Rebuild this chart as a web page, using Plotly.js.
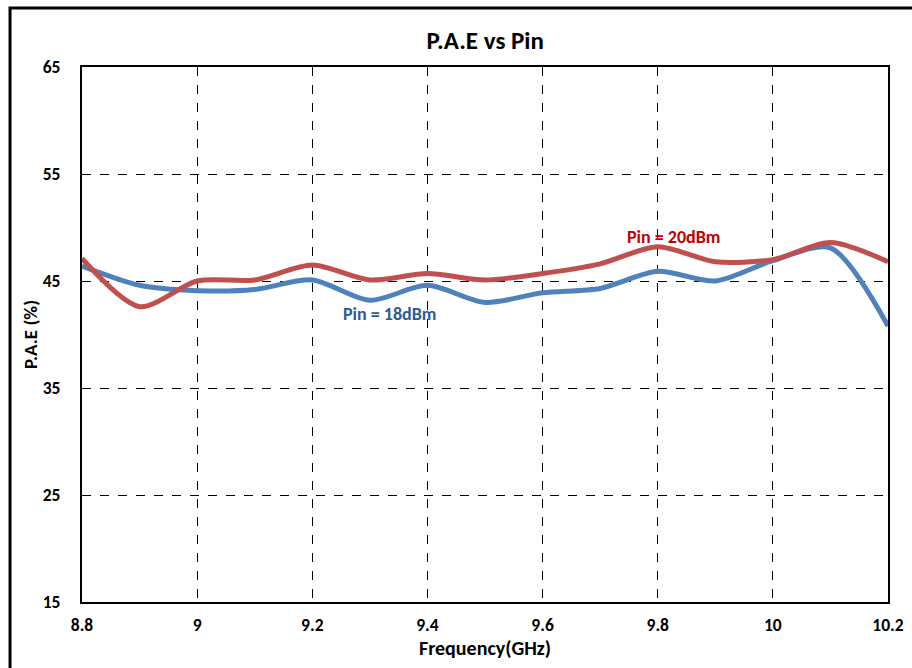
<!DOCTYPE html>
<html>
<head>
<meta charset="utf-8">
<script src="https://cdn.plot.ly/plotly-3.0.1.min.js"></script>
<style>html,body{margin:0;padding:0;background:#fff;}#chart{width:912px;height:668px;}</style>
</head>
<body>
<div id="chart"></div>
<script>
const freq = [8.8, 8.9, 9.0, 9.1, 9.2, 9.3, 9.4, 9.5, 9.6, 9.7, 9.8, 9.9, 10.0, 10.1, 10.2];
const pae18 = [46.4, 44.6, 44.1, 44.2, 45.1, 43.2, 44.6, 43.0, 43.9, 44.3, 45.9, 45.0, 46.9, 48.1, 40.8];
const pae20 = [47.1, 42.6, 45.0, 45.1, 46.5, 45.1, 45.7, 45.1, 45.7, 46.6, 48.2, 46.8, 47.0, 48.6, 46.8];
const xTicks = [8.8, 9, 9.2, 9.4, 9.6, 9.8, 10, 10.2];
const xTickText = ['8.8', '9', '9.2', '9.4', '9.6', '9.8', '10', '10.2'];
const yTicks = [15, 25, 35, 45, 55, 65];

const FONT = "Carlito, 'Liberation Sans Narrow', Lato, 'Open Sans', sans-serif";

const traces = [
  {x: freq, y: pae18, mode: 'lines', name: 'Pin = 18dBm',
   line: {color: '#4F81BD', width: 5, shape: 'spline', smoothing: 0.8}},
  {x: freq, y: pae20, mode: 'lines', name: 'Pin = 20dBm',
   line: {color: '#C0504D', width: 5, shape: 'spline', smoothing: 0.8}}
];

const layout = {
  width: 912, height: 668,
  margin: {l: 82, r: 24, t: 67, b: 66},
  paper_bgcolor: '#fff', plot_bgcolor: '#fff',
  showlegend: false,
  font: {family: FONT, color: '#000', size: 17},
  title: {text: '<b>P.A.E vs Pin</b>', x: 0.532, xanchor: 'center', y: 0.94, yanchor: 'middle',
          font: {size: 25, family: FONT, color: '#000'}},
  xaxis: {
    range: [8.8, 10.2], tickvals: xTicks, ticktext: xTickText.map(t => '<b>' + t + '</b>'),
    showgrid: true, gridcolor: '#000', griddash: 'dash', gridwidth: 1,
    showline: true, linecolor: '#000', linewidth: 2, mirror: true,
    zeroline: false, ticks: '', ticklen: 0, ticklabelstandoff: 6,
    tickfont: {size: 17.5, family: FONT},
    title: {text: '<b>Frequency(GHz)</b>', font: {size: 20, family: FONT}, standoff: 6}
  },
  yaxis: {
    range: [15, 65], tickvals: yTicks, ticktext: yTicks.map(t => '<b>' + t + '</b>'),
    showgrid: true, gridcolor: '#000', griddash: 'dash', gridwidth: 1,
    showline: true, linecolor: '#000', linewidth: 2, mirror: true,
    zeroline: false, ticks: '', ticklen: 0, ticklabelstandoff: 16,
    tickfont: {size: 17.5, family: FONT},
    title: {text: '<b>P.A.E (%)</b>', font: {size: 19, family: FONT}, standoff: 0}
  },
  annotations: [
    {x: 9.334, y: 41.9, xref: 'x', yref: 'y', text: '<b>Pin = 18dBm</b>', showarrow: false,
     font: {size: 18, color: '#2E5A94', family: FONT}},
    {x: 9.828, y: 49.1, xref: 'x', yref: 'y', text: '<b>Pin = 20dBm</b>', showarrow: false,
     font: {size: 18, color: '#C00000', family: FONT}}
  ],
  shapes: [
    {type: 'rect', xref: 'paper', yref: 'paper', x0: -0.0893, x1: 1.2, y0: -0.3, y1: 1.1103,
     line: {color: '#000', width: 3}, fillcolor: 'rgba(0,0,0,0)', layer: 'above'}
  ]
};

Plotly.newPlot('chart', traces, layout, {displayModeBar: false, staticPlot: true});
</script>
</body>
</html>
